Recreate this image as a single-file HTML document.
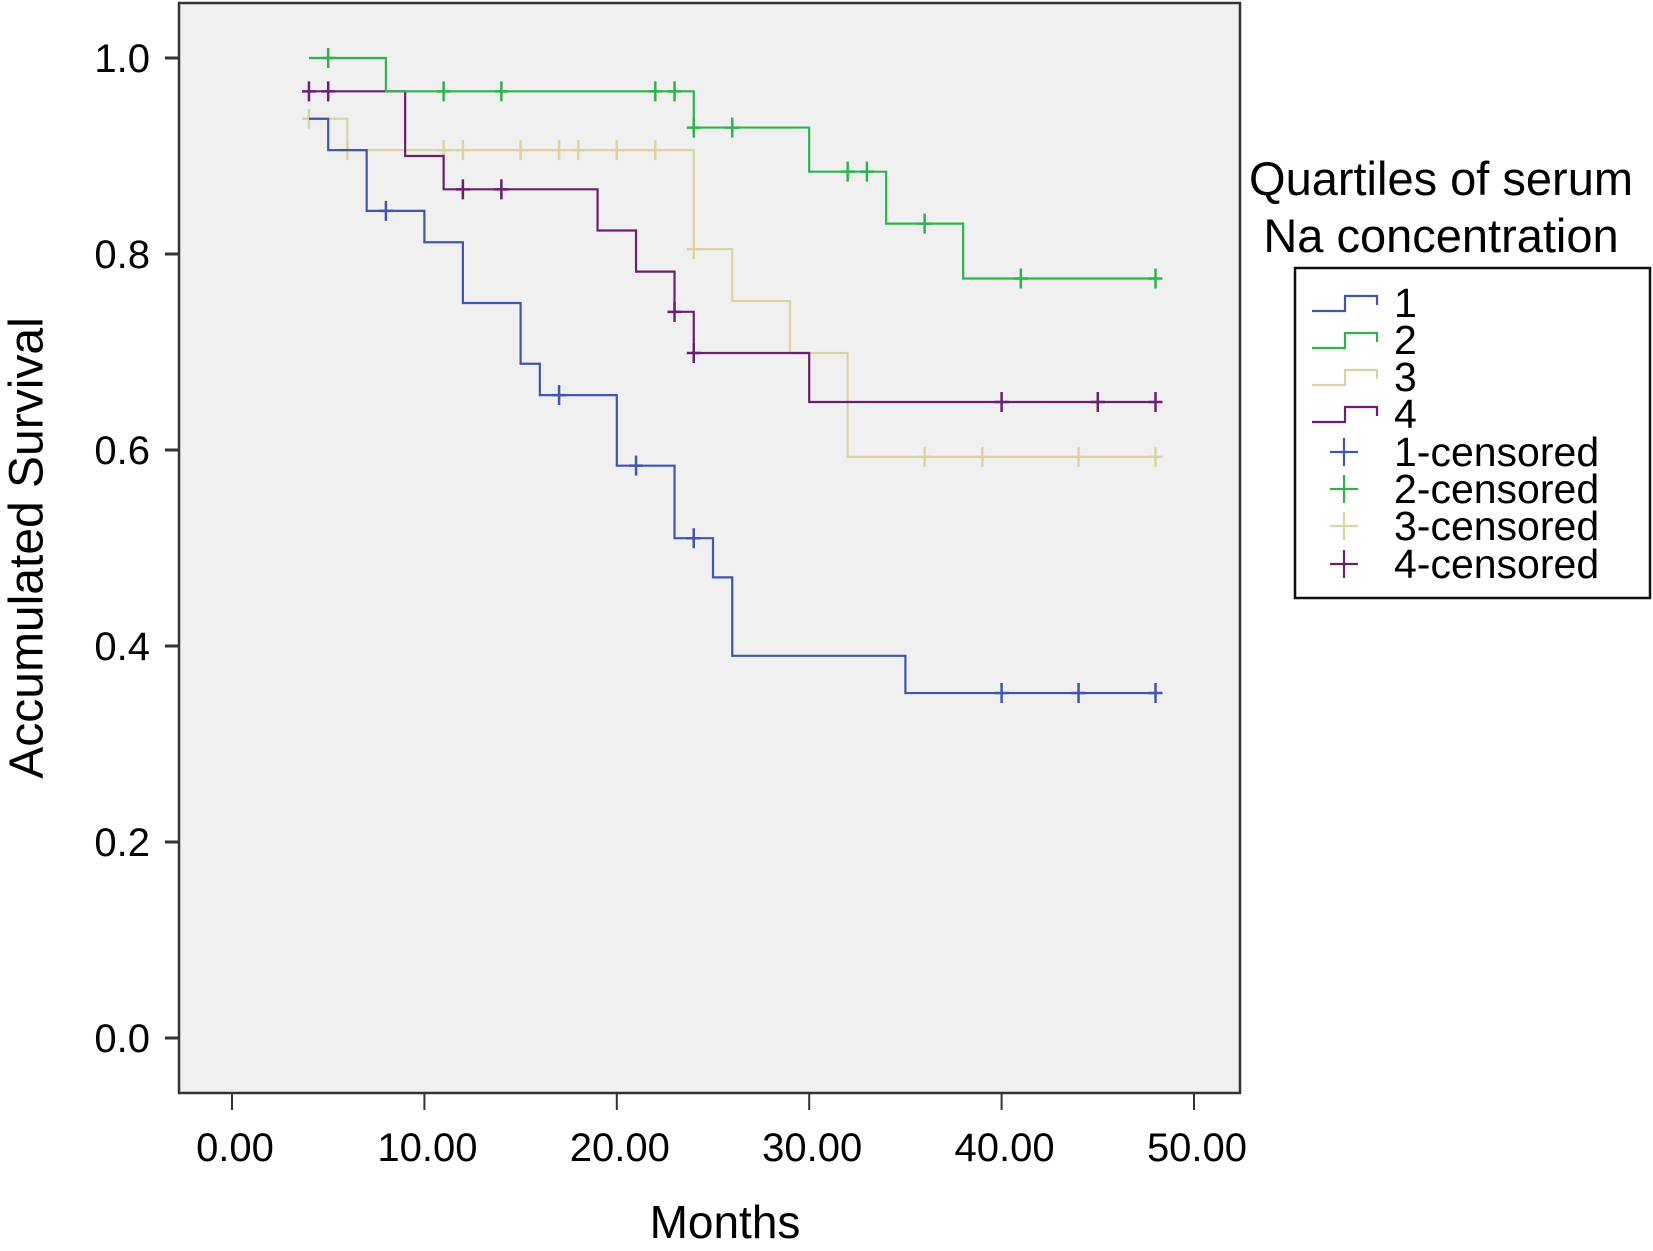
<!DOCTYPE html>
<html><head><meta charset="utf-8"><style>
html,body{margin:0;padding:0;background:#fff;}
svg{display:block;font-family:"Liberation Sans",sans-serif;}
</style></head><body>
<svg id="chart" width="1653" height="1251" viewBox="0 0 1653 1251">
<rect x="179" y="3" width="1061" height="1090" fill="#f0f0f0" stroke="#333" stroke-width="2.5"/>
<g id="axes"></g>
<g id="series"></g>
<text x="30" y="548" font-size="48" text-anchor="middle" transform="rotate(-90 30 548)" dominant-baseline="middle">Accumulated Survival</text>
<text x="725" y="1238" font-size="46" text-anchor="middle">Months</text>
<g>
<text x="1441" y="195" font-size="47" text-anchor="middle">Quartiles of serum</text>
<text x="1441" y="252" font-size="47" text-anchor="middle">Na concentration</text>
<rect x="1295" y="268" width="355" height="330" fill="#fff" stroke="#111" stroke-width="2.5"/>
<g id="legend-items"></g>
</g>
</svg>
<script>
const xTicks = [0, 10, 20, 30, 40, 50];
const xTickLabels = ["0.00", "10.00", "20.00", "30.00", "40.00", "50.00"];
const yTicks = [0, 0.2, 0.4, 0.6, 0.8, 1.0];
const yTickLabels = ["0.0", "0.2", "0.4", "0.6", "0.8", "1.0"];
const seriesNames = ["1", "2", "3", "4"];
const seriesColors = ["#3f56ad", "#2fb34c", "#d9d5a3", "#6b1f6e"];
const q1Times = [4, 5, 7, 10, 12, 15, 16, 20, 23, 25, 26, 35, 48];
const q1Surv = [0.938, 0.906, 0.844, 0.812, 0.75, 0.688, 0.656, 0.584, 0.51, 0.47, 0.39, 0.352, 0.352];
const q1Censor = [8, 17, 21, 24, 40, 44, 48];
const q2Times = [4, 8, 24, 30, 34, 38, 48];
const q2Surv = [1.0, 0.966, 0.929, 0.884, 0.831, 0.775, 0.775];
const q2Censor = [5, 11, 14, 22, 23, 24, 26, 32, 33, 36, 41, 48];
const q3Times = [4, 6, 24, 26, 29, 32, 48];
const q3Surv = [0.938, 0.906, 0.805, 0.752, 0.699, 0.593, 0.593];
const q3Censor = [4, 6, 11, 12, 15, 17, 18, 20, 22, 24, 36, 39, 44, 48];
const q4Times = [4, 9, 11, 19, 21, 23, 24, 30, 48];
const q4Surv = [0.966, 0.9, 0.866, 0.824, 0.782, 0.741, 0.699, 0.649, 0.649];
const q4Censor = [4, 5, 12, 14, 23, 24, 40, 45, 48];

const NS = "http://www.w3.org/2000/svg";
function xs(m){ return 232 + m * 19.24; }
function ys(s){ return 1038 - s * 980; }
function mk(tag, attrs, parent){
  const e = document.createElementNS(NS, tag);
  for (const k in attrs) e.setAttribute(k, attrs[k]);
  parent.appendChild(e); return e;
}
const axes = document.getElementById("axes");
xTicks.forEach((t, i) => {
  const l = mk("line", {x1: xs(t), x2: xs(t), y1: 1093, y2: 1110, stroke: "#333", "stroke-width": 2}, axes);
  
  
  const tx = mk("text", {x: xs(t) + 3, y: 1161, "font-size": 40, "text-anchor": "middle"}, axes);
  tx.textContent = xTickLabels[i];
  
  
});
yTicks.forEach((t, i) => {
  const l = mk("line", {x1: 165, x2: 179, y1: ys(t), y2: ys(t), stroke: "#333", "stroke-width": 3}, axes);
  
  
  const tx = mk("text", {x: 150, y: ys(t) + 14, "font-size": 40, "text-anchor": "end"}, axes);
  tx.textContent = yTickLabels[i];
  
  
});
const seriesData = [[q1Times, q1Surv, q1Censor], [q2Times, q2Surv, q2Censor], [q3Times, q3Surv, q3Censor], [q4Times, q4Surv, q4Censor]];
const sg = document.getElementById("series");
const order = [2, 0, 3, 1];
order.forEach(k => {
  const [T, S, C] = seriesData[k];
  const col = seriesColors[k];
  let d = "M" + xs(T[0]) + " " + ys(S[0]);
  for (let i = 1; i < T.length; i++) {
    d += " H" + xs(T[i]) + " V" + ys(S[i]);
  }
  const p = mk("path", {d: d, fill: "none", stroke: col, "stroke-width": 2.2}, sg);
  
  
  C.forEach(c => {
    let s = S[0];
    for (let i = 0; i < T.length; i++) { if (T[i] <= c) s = S[i]; }
    const g = mk("path", {d: "M" + (xs(c) - 7) + " " + ys(s) + " h14 M" + xs(c) + " " + (ys(s) - 10) + " v20", stroke: col, "stroke-width": 2.5}, sg);
    
    
  });
});
const lg = document.getElementById("legend-items");
const lyLine = [302, 339, 376, 413];
seriesNames.forEach((n, i) => {
  const y = lyLine[i];
  const p = mk("path", {d: "M1312 " + (y + 9) + " H1345 V" + (y - 6) + " H1377 V" + (y + 3), fill: "none", stroke: seriesColors[i], "stroke-width": 2.2}, lg);
  
  
  const t = mk("text", {x: 1394, y: y + 15, "font-size": 41}, lg);
  t.textContent = n;
  
  
});
const lyCens = [452, 489, 526, 564];
seriesNames.forEach((n, i) => {
  const y = lyCens[i];
  const p = mk("path", {d: "M1330 " + y + " h28 M1344 " + (y - 14) + " v28", stroke: seriesColors[i], "stroke-width": 2.2}, lg);
  
  
  const t = mk("text", {x: 1394, y: y + 14, "font-size": 41}, lg);
  t.textContent = n + "-censored";
  
  
});
</script>
</body></html>
